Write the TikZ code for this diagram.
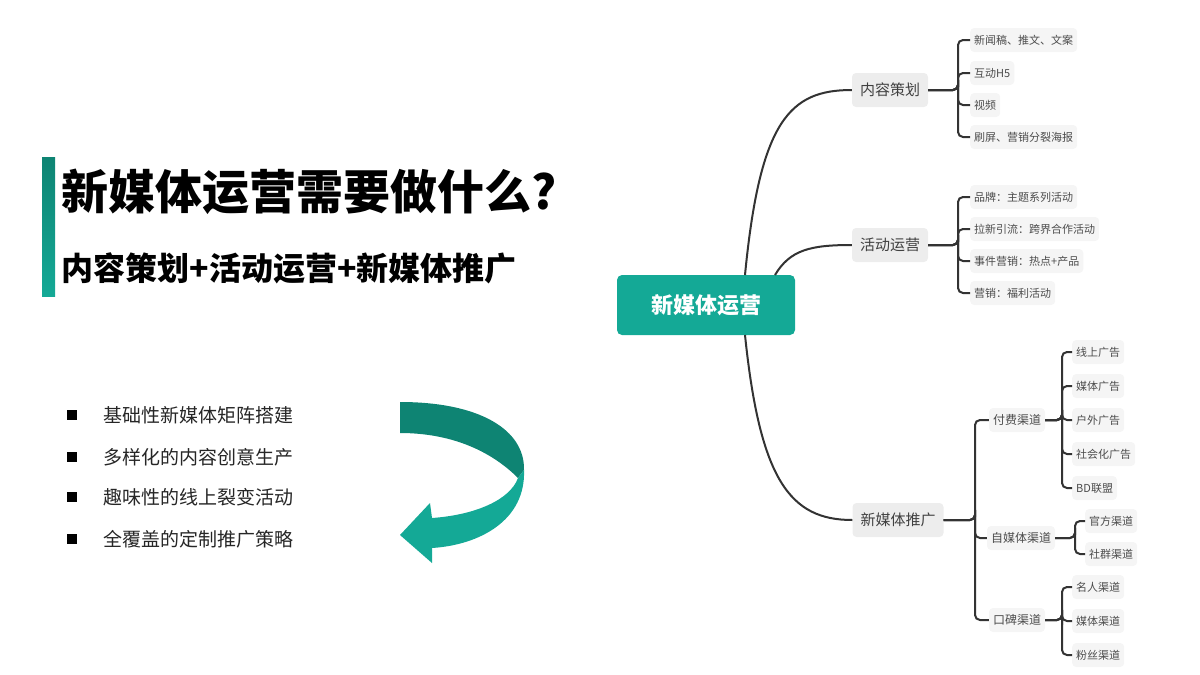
\documentclass[tikz,border=0pt]{standalone}
\usepackage{fontspec}
\setmainfont{Noto Sans CJK SC}
\begin{document}
\begin{tikzpicture}[x=1pt,y=-1pt,
  ln/.style={draw=black!80,line width=2pt,rounded corners=5pt},
  l1/.style={fill=black!7,rounded corners=4pt,font=\fontsize{15}{15}\selectfont,text=black!75,minimum height=34pt,inner xsep=8pt},
  lf/.style={fill=black!4,rounded corners=4pt,font=\fontsize{11}{11}\selectfont,text=black!70,minimum height=24pt,inner xsep=4pt,anchor=west},
  l2/.style={fill=black!4,rounded corners=4pt,font=\fontsize{12}{12}\selectfont,text=black!70,minimum height=24pt,inner xsep=4pt},
  bul/.style={anchor=west,font=\fontsize{19}{19}\selectfont,text=black!85}]
\useasboundingbox (0,0) rectangle (1200,675);
\definecolor{tl}{HTML}{14A996}
\definecolor{tld}{HTML}{0E8473}
% left
\shade[top color=tld,bottom color=tl] (42,157) rectangle (55,296);
\node[anchor=west,font=\bfseries\fontsize{47}{47}\selectfont] (title) at (58,192) {新媒体运营需要做什么?};
\node[anchor=west,font=\bfseries\fontsize{32}{32}\selectfont] (sub) at (58,268) {内容策划+活动运营+新媒体推广};
\foreach \y/\t [count=\i] in {415/基础性新媒体矩阵搭建,457/多样化的内容创意生产,497/趣味性的线上裂变活动,539/全覆盖的定制推广策略}{
  \fill (67,\y-5) rectangle (77,\y+5);
  \node[bul] (b\i) at (100,\y) {\t};
}
\fill[tld] (400,402) .. controls (480,402) and (525,430) .. (524,470) -- (518,478)
  .. controls (490,450) and (450,433) .. (400,433) -- cycle;
\fill[tl] (524,470) .. controls (526,520) and (480,545) .. (432,548) -- (432,563) -- (400,535)
  -- (430,503) -- (432,518) .. controls (475,515) and (510,500) .. (518,478) -- cycle;
% mind map
\node[fill=tl,rounded corners=5pt,text=white,font=\bfseries\fontsize{22}{22}\selectfont,minimum width=178pt,minimum height=60pt] (root) at (706,305) {新媒体运营};
\node[l1] (a) at (890,90) {内容策划};
\node[l1] (b) at (890,245) {活动运营};
\node[l1] (c) at (898,520) {新媒体推广};
\draw[ln,rounded corners=0] (745,275) .. controls (760,120) and (790,90) .. (a.west);
\draw[ln,rounded corners=0] (775,275) .. controls (790,250) and (810,245) .. (b.west);
\draw[ln,rounded corners=0] (745,335) .. controls (760,480) and (790,520) .. (c.west);
% leaves of a
\foreach \y/\t [count=\i] in {40/新闻稿、推文、文案,73/互动H5,105/视频,137/刷屏、营销分裂海报}{
  \node[lf] (a\i) at (970,\y) {\t};
  \draw[ln] (a.east) -| (958,90) |- (a\i.west);
}
\foreach \y/\t [count=\i] in {197/品牌：主题系列活动,229/拉新引流：跨界合作活动,261/事件营销：热点+产品,293/营销：福利活动}{
  \node[lf] (b\i) at (970,\y) {\t};
  \draw[ln] (b.east) -| (958,245) |- (b\i.west);
}
\node[l2] (c1) at (1017,420) {付费渠道};
\node[l2] (c2) at (1021,538) {自媒体渠道};
\node[l2] (c3) at (1017,620) {口碑渠道};
\foreach \i in {1,2,3}{\draw[ln] (c.east) -| (975,520) |- (c\i.west);}
\foreach \y/\t [count=\i] in {352/线上广告,386/媒体广告,420/户外广告,454/社会化广告,488/BD联盟}{
  \node[lf] (d\i) at (1072,\y) {\t};
  \draw[ln] (c1.east) -| (1062,420) |- (d\i.west);
}
\foreach \y/\t [count=\i] in {521/官方渠道,554/社群渠道}{
  \node[lf] (e\i) at (1085,\y) {\t};
  \draw[ln] (c2.east) -| (1075,538) |- (e\i.west);
}
\foreach \y/\t [count=\i] in {587/名人渠道,621/媒体渠道,655/粉丝渠道}{
  \node[lf] (f\i) at (1072,\y) {\t};
  \draw[ln] (c3.east) -| (1062,620) |- (f\i.west);
}
\end{tikzpicture}
\end{document}
